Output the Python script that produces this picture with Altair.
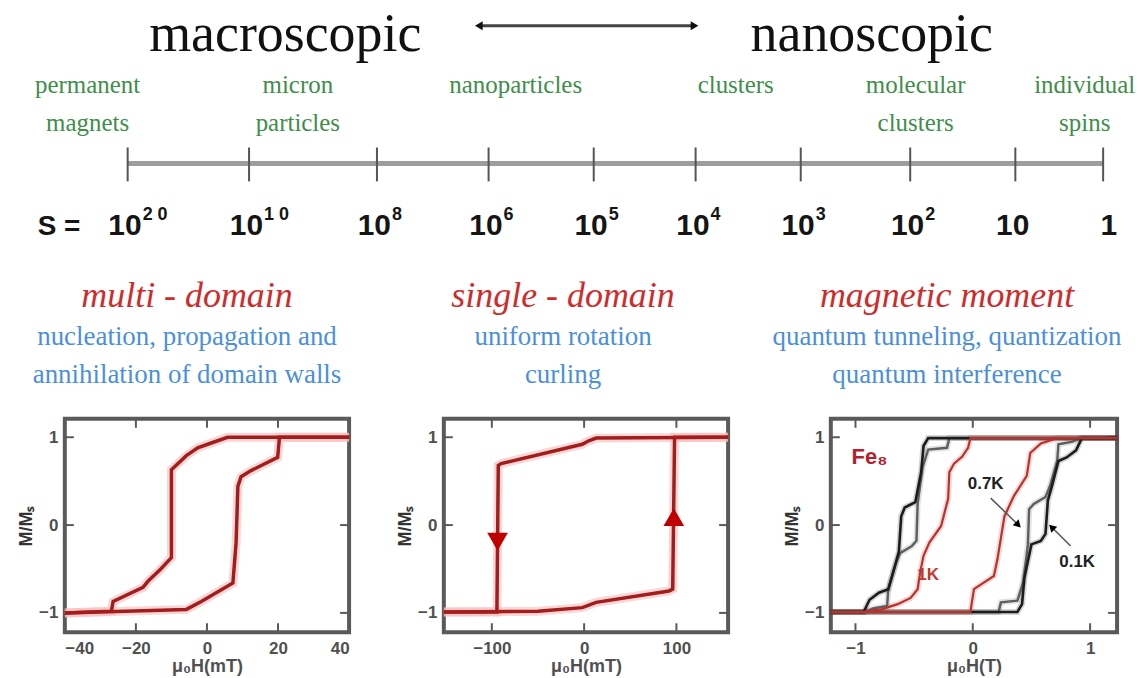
import altair as alt
import pandas as pd

# ---------------- top: spin-size scale ----------------
s_pos = [0, 1.12, 2.30, 3.33, 4.30, 5.24, 6.21, 7.22, 8.19, 9.0]
s_base = ["10", "10", "10", "10", "10", "10", "10", "10", "10", "1"]
s_exp = ["2 0", "1 0", "8", "6", "5", "4", "3", "2", "", ""]
green_labels = [["permanent", "magnets"], ["micron", "particles"], ["nanoparticles"],
                ["clusters"], ["molecular", "clusters"], ["individual", "spins"]]
green_pos = [-0.37, 1.57, 3.58, 5.61, 7.27, 8.83]
scale_titles = ["macroscopic", "nanoscopic"]
scale_title_pos = [1.454, 6.865]
arrow_ends = [3.24, 5.23]
arrow_shapes = ["triangle-left", "triangle-right"]
s_prefix = ["S ="]
s_prefix_pos = [-0.83]

# ---------------- panel 1: multi-domain ----------------
p1_desc_H = [40, 5.8, 0.2, -2.6, -5.8, -10.0, -10.0, -13.0, -16.6, -18.0, -26.4, -26.9, -40]
p1_desc_M = [1.0, 1.0, 0.92, 0.88, 0.79, 0.63, -0.37, -0.50, -0.64, -0.71, -0.87, -0.98, -1.0]
p1_asc_H = [-40, -5.8, -1.6, 7.3, 8.2, 8.7, 9.6, 12.4, 19.9, 20.4, 40]
p1_asc_M = [-1.0, -0.96, -0.87, -0.66, -0.20, 0.44, 0.55, 0.62, 0.77, 1.0, 1.0]

# ---------------- panel 2: single-domain ----------------
p2_desc_H = [156, 13, 5, -2, -90, -93, -94.5, -152]
p2_desc_M = [1.0, 0.99, 0.96, 0.92, 0.70, 0.68, -0.99, -0.99]
p2_asc_H = [-152, -50, -2, 13, 92, 96, 98, 156]
p2_asc_M = [-0.99, -0.98, -0.94, -0.88, -0.75, -0.73, 1.0, 1.0]
p2_marker_H = [-93.8, 97.2]
p2_marker_M = [-0.19, 0.09]
p2_marker_shape = ["triangle-down", "triangle-up"]

# ---------------- panel 3: Fe8 molecular magnet ----------------
k01_desc_H = [1.23, -0.38, -0.42, -0.44, -0.49, -0.58, -0.61, -0.63, -0.66, -0.72, -0.80, -0.88, -0.93, -1.21]
k01_desc_M = [0.99, 0.99, 0.90, 0.60, 0.26, 0.20, 0.10, -0.30, -0.45, -0.73, -0.77, -0.85, -0.99, -0.99]
k01_asc_H = [-1.21, 0.38, 0.42, 0.44, 0.50, 0.58, 0.62, 0.64, 0.67, 0.73, 0.80, 0.88, 0.93, 1.23]
k01_asc_M = [-0.99, -0.99, -0.90, -0.60, -0.22, -0.18, -0.10, 0.28, 0.42, 0.73, 0.77, 0.85, 0.99, 0.99]
k07_desc_H = [1.23, -0.20, -0.22, -0.38, -0.43, -0.47, -0.48, -0.52, -0.62, -0.66, -0.72, -0.73, -0.85, -0.92, -1.21]
k07_desc_M = [0.99, 0.99, 0.88, 0.86, 0.65, 0.24, -0.18, -0.24, -0.32, -0.45, -0.73, -0.92, -0.95, -0.99, -0.99]
k07_asc_H = [-1.21, 0.22, 0.24, 0.38, 0.43, 0.47, 0.48, 0.52, 0.62, 0.66, 0.72, 0.73, 0.85, 0.92, 1.23]
k07_asc_M = [-0.99, -0.99, -0.88, -0.86, -0.65, -0.22, 0.18, 0.24, 0.32, 0.45, 0.73, 0.92, 0.95, 0.99, 0.99]
k1_desc_H = [1.23, -0.02, -0.04, -0.09, -0.16, -0.20, -0.21, -0.27, -0.37, -0.42, -0.45, -0.47, -0.53, -0.64, -0.78, -0.95, -1.21]
k1_desc_M = [0.99, 0.99, 0.88, 0.78, 0.70, 0.60, 0.30, -0.01, -0.20, -0.35, -0.55, -0.73, -0.83, -0.90, -0.96, -0.99, -0.99]
k1_asc_H = [-1.21, -0.02, -0.01, 0.01, 0.10, 0.18, 0.21, 0.27, 0.35, 0.46, 0.49, 0.58, 0.72, 1.23]
k1_asc_M = [-0.99, -0.99, -0.90, -0.73, -0.65, -0.58, -0.39, 0.10, 0.33, 0.56, 0.82, 0.93, 0.99, 0.99]
p3_series = ["0.1K", "0.7K", "1K"]
p3_colors = ["#1c1c1c", "#5e5e5e", "#b8322e"]
p3_widths = [2.6, 2.2, 1.8]
p3_labels = ["Fe₈", "0.7K", "0.1K", "1K"]
p3_label_H = [-0.88, 0.11, 0.89, -0.38]
p3_label_M = [0.78, 0.47, -0.42, -0.57]
p3_label_color = ["#b5222e", "#222222", "#222222", "#c0392b"]
p3_label_size = [22, 17, 17, 17]
p3_arrow_H = [0.153, 0.834]
p3_arrow_M = [0.307, -0.239]
p3_arrow_H2 = [0.38, 0.68]
p3_arrow_M2 = [0.012, -0.034]
p3_arrow_angle = [135, 315]

titles = ["multi - domain", "single - domain", "magnetic moment"]
subtitles = [["nucleation, propagation and", "annihilation of domain walls"],
             ["uniform rotation", "curling"],
             ["quantum tunneling, quantization", "quantum interference"]]

SERIF = "Liberation Serif"
SANS = "Liberation Sans"
PH = 214

# ======================= top chart =======================
X = alt.X("p:Q", scale=alt.Scale(domain=[-1.1503, 9.4047], nice=False, zero=False), axis=None)

def recs(**cols):
    keys = list(cols)
    n = len(cols[keys[0]])
    return alt.Data(values=[{k: cols[k][i] for k in keys} for i in range(n)])

t_titles = alt.Chart(recs(p=scale_title_pos, t=scale_titles)).mark_text(
    font=SERIF, fontSize=54, baseline="alphabetic", align="center", color="#111111"
).encode(x=X, y=alt.value(50), text="t:N")

t_arrow = alt.Chart(recs(p=[arrow_ends[0]], p2=[arrow_ends[1]])).mark_rule(
    strokeWidth=3, color="#444444"
).encode(x=X, x2="p2:Q", y=alt.value(25))

t_heads = alt.Chart(recs(p=arrow_ends, s=arrow_shapes)).mark_point(
    filled=True, color="#111111", size=80, opacity=1
).encode(x=X, y=alt.value(25), shape=alt.Shape("s:N", scale=None))

t_green = alt.Chart(recs(p=green_pos, label=green_labels)).mark_text(
    font=SERIF, fontSize=25, color="#3e8e4a", lineHeight=38, baseline="alphabetic", align="center"
).encode(x=X, y=alt.value(92), text="label:N")

t_line = alt.Chart(recs(p=[s_pos[0]], p2=[s_pos[-1]])).mark_rule(
    strokeWidth=5, color="#9d9d9d"
).encode(x=X, x2="p2:Q", y=alt.value(163))

t_ticks = alt.Chart(recs(p=s_pos)).mark_rule(strokeWidth=2, color="#555555").encode(
    x=X, y=alt.value(147), y2=alt.value(181))

t_base = alt.Chart(recs(p=s_pos, t=s_base)).mark_text(
    font=SANS, fontWeight="bold", fontSize=30, align="right", dx=14, baseline="alphabetic", color="#151515"
).encode(x=X, y=alt.value(235), text="t:N")

t_exp = alt.Chart(recs(p=s_pos, t=s_exp)).mark_text(
    font=SANS, fontWeight="bold", fontSize=18, align="left", dx=15, baseline="alphabetic", color="#151515"
).encode(x=X, y=alt.value(220), text="t:N")

t_prefix = alt.Chart(recs(p=s_prefix_pos, t=s_prefix)).mark_text(
    font=SANS, fontWeight="bold", fontSize=28, align="left", baseline="alphabetic", color="#151515"
).encode(x=X, y=alt.value(235), text="t:N")

top = alt.layer(t_titles, t_arrow, t_heads, t_green, t_line, t_ticks, t_base, t_exp, t_prefix).properties(
    width=1147, height=400)

# ======================= panels =======================
def loop_df(branches):
    rows = []
    for name, hs, ms in branches:
        for i, (h, m) in enumerate(zip(hs, ms)):
            rows.append({"H": h, "M": m, "branch": name, "i": i, "T": name.split("|")[0]})
    return pd.DataFrame(rows)


def panel(idx, width, xdom, xvals, xtitle, layer_fns, dx):
    Xp = alt.X("H:Q", scale=alt.Scale(domain=xdom, nice=False, zero=False),
               axis=alt.Axis(values=xvals, ticks=False, domain=False, grid=False,
                             labelFont=SANS, labelFontWeight="bold", labelFontSize=17,
                             labelColor="#505050", labelPadding=8, title=xtitle,
                             titleFont=SANS, titleFontWeight="bold", titleFontSize=18,
                             titleColor="#505050", titlePadding=1))
    Yp = alt.Y("M:Q", scale=alt.Scale(domain=[-1.22, 1.21], nice=False, zero=False),
               axis=alt.Axis(values=[-1, 0, 1], ticks=False, domain=False, grid=False,
                             labelFont=SANS, labelFontWeight="bold", labelFontSize=17,
                             labelColor="#505050", labelPadding=7, title="M/Mₛ",
                             titleFont=SANS, titleFontWeight="bold", titleFontSize=18,
                             titleColor="#333333", titlePadding=3))
    xt = pd.DataFrame({"H": xvals[1:-1] if len(xvals) > 3 else xvals})
    yt = pd.DataFrame({"M": [-1, 0, 1]})
    tick = dict(strokeWidth=2, color="#5a5a5a")
    frame_ticks = [
        alt.Chart(yt).mark_rule(**tick).encode(y=Yp, x=alt.value(0), x2=alt.value(9)),
        alt.Chart(yt).mark_rule(**tick).encode(y=Yp, x=alt.value(width - 9), x2=alt.value(width)),
        alt.Chart(xt).mark_rule(**tick).encode(x=Xp, y=alt.value(0), y2=alt.value(9)),
        alt.Chart(xt).mark_rule(**tick).encode(x=Xp, y=alt.value(PH - 9), y2=alt.value(PH)),
    ]
    layers = frame_ticks + [f(Xp, Yp) for f in layer_fns]
    return alt.layer(*layers).properties(
        width=width, height=PH,
        view=alt.ViewBackground(stroke="#5a5a5a", strokeWidth=4),
        title=alt.TitleParams(
            text=titles[idx], subtitle=subtitles[idx], anchor="middle", dx=dx,
            font=SERIF, fontSize=36, fontStyle="italic", fontWeight="normal", color="#cf2b2b",
            subtitleFont=SERIF, subtitleFontSize=27, subtitleColor="#4b8fdc",
            subtitleLineHeight=38, subtitlePadding=9, offset=29,
        ),
    )


def red_loop(df):
    def halo(Xp, Yp):
        return alt.Chart(df).mark_line(strokeWidth=9, color="#f5bcbc", opacity=0.6).encode(
            x=Xp, y=Yp, detail="branch:N", order="i:Q")
    def main(Xp, Yp):
        return alt.Chart(df).mark_line(strokeWidth=3.5, color="#a31d1d").encode(
            x=Xp, y=Yp, detail="branch:N", order="i:Q")
    return [halo, main]


df1 = loop_df([("d", p1_desc_H, p1_desc_M), ("a", p1_asc_H, p1_asc_M)])
df2 = loop_df([("d", p2_desc_H, p2_desc_M), ("a", p2_asc_H, p2_asc_M)])
df3 = loop_df([
    ("0.7K|d", k07_desc_H, k07_desc_M), ("0.7K|a", k07_asc_H, k07_asc_M),
    ("0.1K|d", k01_desc_H, k01_desc_M), ("0.1K|a", k01_asc_H, k01_asc_M),
    ("1K|d", k1_desc_H, k1_desc_M), ("1K|a", k1_asc_H, k1_asc_M),
])

markers2 = pd.DataFrame({"H": p2_marker_H, "M": p2_marker_M, "s": p2_marker_shape})

def p2_markers(Xp, Yp):
    return alt.Chart(markers2).mark_point(filled=True, color="#c00000", size=430, opacity=1).encode(
        x=Xp, y=Yp, shape=alt.Shape("s:N", scale=None))

def p3_halo(Xp, Yp):
    return alt.Chart(df3).mark_line(strokeWidth=6, opacity=0.18).encode(
        x=Xp, y=Yp, detail="branch:N", order="i:Q",
        color=alt.Color("T:N", scale=alt.Scale(domain=p3_series, range=p3_colors), legend=None))

def p3_lines(Xp, Yp):
    return alt.Chart(df3).mark_line().encode(
        x=Xp, y=Yp, detail="branch:N", order="i:Q",
        color=alt.Color("T:N", scale=alt.Scale(domain=p3_series, range=p3_colors), legend=None),
        strokeWidth=alt.StrokeWidth("T:N", scale=alt.Scale(domain=p3_series, range=p3_widths), legend=None))

lab3 = pd.DataFrame({"H": p3_label_H, "M": p3_label_M, "t": p3_labels,
                     "c": p3_label_color, "sz": p3_label_size})
arr3 = pd.DataFrame({"H": p3_arrow_H, "M": p3_arrow_M, "H2": p3_arrow_H2, "M2": p3_arrow_M2})
heads3 = pd.DataFrame({"H": p3_arrow_H2, "M": p3_arrow_M2, "ang": p3_arrow_angle})

def p3_text(Xp, Yp):
    return alt.Chart(lab3).mark_text(font=SANS, fontWeight="bold").encode(
        x=Xp, y=Yp, text="t:N", color=alt.Color("c:N", scale=None),
        size=alt.Size("sz:Q", scale=None))

def p3_arrows(Xp, Yp):
    return alt.Chart(arr3).mark_rule(strokeWidth=1.5, color="#555555").encode(
        x=Xp, y=Yp, x2="H2:Q", y2="M2:Q")

def p3_heads(Xp, Yp):
    return alt.Chart(heads3).mark_point(shape="triangle", filled=True, color="#000000", size=70, opacity=1).encode(
        x=Xp, y=Yp, angle=alt.Angle("ang:Q", scale=None))

P1 = panel(0, 285, [-40, 40], [-40, -20, 0, 20, 40], "μ₀H(mT)", red_loop(df1), -20)
P2 = panel(1, 285, [-152, 156], [-100, 0, 100], "μ₀H(mT)", red_loop(df2) + [p2_markers], -23)
P3 = panel(2, 287, [-1.21, 1.23], [-1, 0, 1], "μ₀H(T)",
           [p3_halo, p3_lines, p3_arrows, p3_heads, p3_text], -27)


def spacer(w):
    return alt.Chart(alt.Data(values=[{"a": 0}])).mark_point(opacity=0).encode(
        x=alt.value(0), y=alt.value(0)).properties(width=w, height=PH)


row = alt.hconcat(spacer(62), P1, spacer(95), P2, spacer(103), P3, spacing=0, bounds="flush")

chart = alt.vconcat(top, row, spacing=19, bounds="flush").properties(padding=0).configure_view(
    strokeWidth=0)

chart.save("out.html", embed_options={"renderer": "svg", "actions": False})
